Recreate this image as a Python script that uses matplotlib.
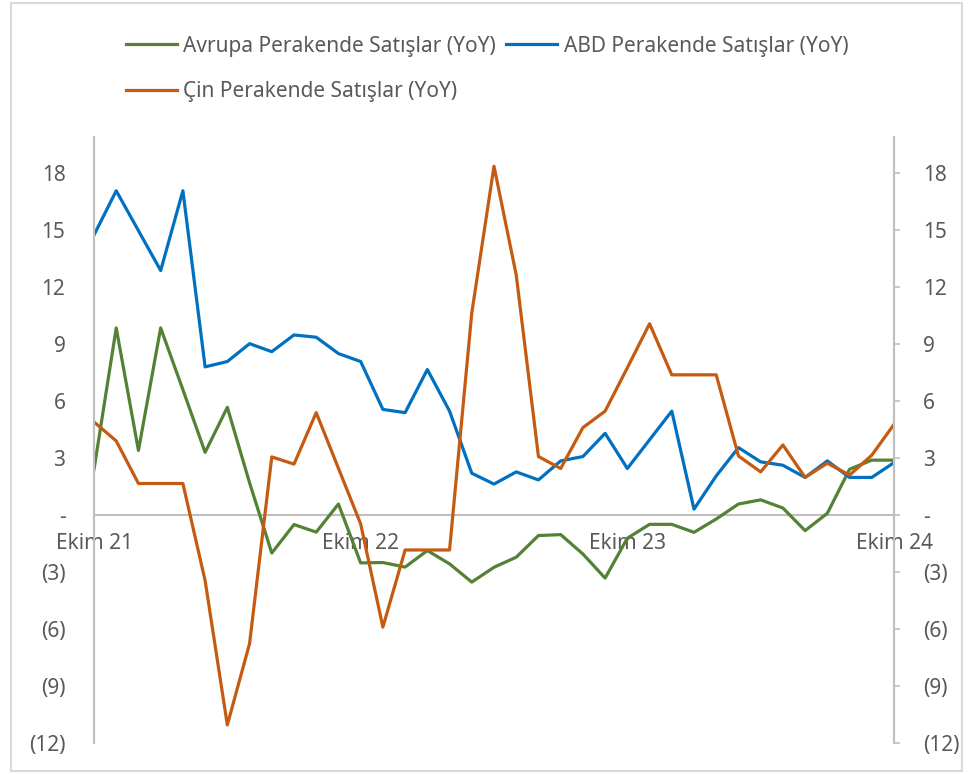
import matplotlib.pyplot as plt
from matplotlib.patches import Rectangle

# monthly data, Ekim 21 .. Ekim 24 (37 points)
months = ["Ekim 21"] + [""] * 11 + ["Ekim 22"] + [""] * 11 + ["Ekim 23"] + [""] * 11 + ["Ekim 24"]

avrupa = [2.4, 9.85, 3.4, 9.85, 6.6, 3.3, 5.67, 1.7, -2.0, -0.5, -0.9, 0.58, -2.52,
          -2.5, -2.74, -1.87, -2.57, -3.53, -2.75, -2.22, -1.08, -1.03, -2.05, -3.32,
          -1.22, -0.49, -0.49, -0.91, -0.21, 0.58, 0.8, 0.37, -0.82, 0.09, 2.41, 2.89, 2.89]

abd = [14.74, 17.07, 14.97, 12.87, 17.07, 7.8, 8.08, 9.02, 8.6, 9.48, 9.36, 8.5, 8.08,
       5.56, 5.39, 7.66, 5.47, 2.2, 1.63, 2.27, 1.85, 2.85, 3.08, 4.3, 2.45, 3.96, 5.47,
       0.31, 2.06, 3.55, 2.8, 2.62, 1.98, 2.85, 1.98, 1.98, 2.76]

cin = [4.9, 3.9, 1.66, 1.66, 1.66, -3.45, -11.05, -6.77, 3.06, 2.68, 5.39, 2.46, -0.47,
       -5.9, -1.84, -1.84, -1.84, 10.64, 18.36, 12.64, 3.08, 2.45, 4.6, 5.47, 7.75, 10.07,
       7.38, 7.38, 7.38, 3.11, 2.27, 3.69, 1.98, 2.73, 2.1, 3.15, 4.77]

yticks = [-12, -9, -6, -3, 0, 3, 6, 9, 12, 15, 18]

green = "#548235"
blue = "#0070C0"
orange = "#C55A11"
gray = "#BFBFBF"
txt = "#595959"
fs = 15

def fmt(v):
    if v == 0:
        return "-"
    if v < 0:
        return "(%d)" % abs(v)
    return "%d" % v

plt.rcParams['font.family'] = ['Noto Sans', 'DejaVu Sans']

fig = plt.figure(figsize=(9.68, 7.74), dpi=100)
ax = fig.add_axes([94 / 968, 1 - 743 / 774, (894 - 94) / 968, (743 - 137) / 774])

x = list(range(len(months)))
l1, = ax.plot(x, avrupa, color=green, lw=2.3, label="Avrupa Perakende Satışlar (YoY)")
l2, = ax.plot(x, abd, color=blue, lw=2.3, label="ABD Perakende Satışlar (YoY)")
l3, = ax.plot(x, cin, color=orange, lw=2.3, label="Çin Perakende Satışlar (YoY)")

ax.set_xlim(0, 36)
ax.set_ylim(-12, 19.9)
ax.axhline(0, color=gray, lw=1.5, zorder=0)

ax.set_yticks(yticks)
ax.set_yticklabels([fmt(v) for v in yticks])
ax.tick_params(axis='y', length=0, labelsize=fs, pad=20.5, labelcolor=txt)

ay = ax.twinx()
ay.set_ylim(ax.get_ylim())
ay.set_yticks(yticks)
ay.set_yticklabels([fmt(v) for v in yticks])
ay.tick_params(axis='y', left=False, right=True, color=gray, length=4.5, width=1.2,
               labelsize=fs, labelcolor=txt, pad=16.5)

tick_pos = [i for i, m in enumerate(months) if m]
ax.set_xticks(tick_pos)
ax.set_xticklabels([months[i] for i in tick_pos])
ax.spines['bottom'].set_position(('data', 0))
ax.tick_params(axis='x', length=0, labelsize=fs, labelcolor=txt, pad=13)

for a in (ax, ay):
    a.spines['top'].set_visible(False)
    a.spines['bottom'].set_visible(False)
    a.spines['left'].set_color(gray)
    a.spines['right'].set_color(gray)
    a.spines['left'].set_linewidth(1.5)
    a.spines['right'].set_linewidth(1.5)

fig.legend([l1, l3, l2], [l1.get_label(), l3.get_label(), l2.get_label()],
           ncol=2, loc='upper left', bbox_to_anchor=(107 / 968, 1 - 17 / 774),
           frameon=False, fontsize=fs, handlelength=2.45, handletextpad=0.3,
           columnspacing=0.5, labelspacing=1.16, labelcolor=txt)

fig.patches.append(Rectangle((11 / 968, 3 / 774), (962 - 11) / 968, (771 - 3) / 774,
                             transform=fig.transFigure, fill=False, edgecolor="#D9D9D9", lw=1.5))

fig.savefig("out.png", dpi=100)
